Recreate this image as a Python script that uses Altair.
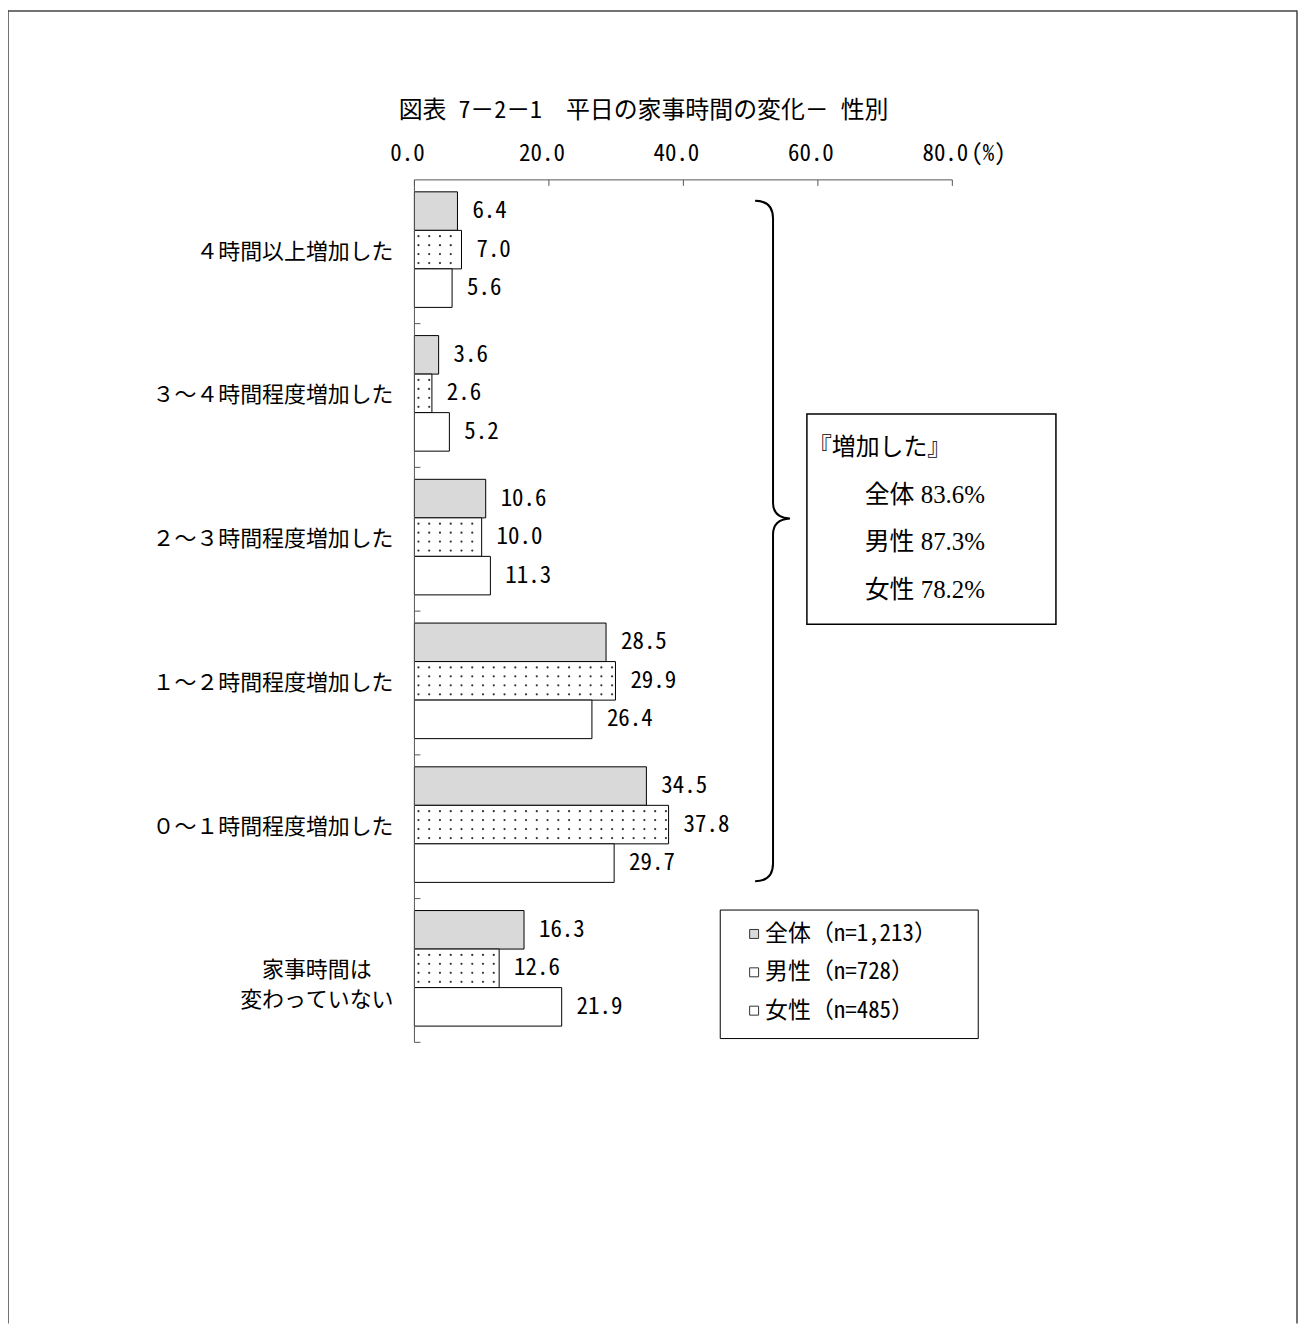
import re
import altair as alt
import pandas as pd

# ---------------- data ----------------
title_text = "図表 7－2－1　平日の家事時間の変化－ 性別"
categories = [
    "４時間以上増加した",
    "３～４時間程度増加した",
    "２～３時間程度増加した",
    "１～２時間程度増加した",
    "０～１時間程度増加した",
    "家事時間は\n変わっていない",
]
series = ["全体", "男性", "女性"]
series_n = ["1,213", "728", "485"]
total_vals = [6.4, 3.6, 10.6, 28.5, 34.5, 16.3]
male_vals = [7.0, 2.6, 10.0, 29.9, 37.8, 12.6]
female_vals = [5.6, 5.2, 11.3, 26.4, 29.7, 21.9]
x_ticks = [0, 20, 40, 60, 80]
x_unit = "(%)"
note_head = "『増加した』"
note_labels = ["全体", "男性", "女性"]
note_vals = [83.6, 87.3, 78.2]

# ---------------- layout / style ----------------
W, H = 1295, 1318
X0, X1 = 408, 948
Y0, STEP = 170.0, 144.3
Y1 = Y0 + STEP * len(categories)
BAR_TOP, BAR_H = 12.0, 38.67
pad_total = STEP - 3 * BAR_H
off_pad = pad_total / 2 / BAR_H
off_align = BAR_TOP / pad_total
LABEL_RIGHT = 387
CAT_FS = 22

GOTHIC = "Noto Sans Mono CJK JP, Noto Sans CJK JP"
NUM = "Noto Sans Mono CJK JP, DejaVu Sans Mono"
SERIF = "Liberation Serif, DejaVu Serif, Noto Sans CJK JP"
AX = "#555555"

xs = alt.Scale(domain=[0, 80], range=[X0, X1], nice=False, zero=False)
ys = alt.Scale(domain=categories, range=[Y0, Y1], paddingInner=0, paddingOuter=0)
yo = alt.Scale(domain=series, paddingInner=0, paddingOuter=off_pad, align=off_align)
fills = alt.Scale(domain=series, range=["#d9d9d9", "#ffffff", "#ffffff"])

rows = []
for c, a, m, f in zip(categories, total_vals, male_vals, female_vals):
    for s, v in zip(series, (a, m, f)):
        rows.append({"cat": c, "series": s, "value": v, "label": f"{v:.1f}"})
bars_df = pd.DataFrame(rows)

X = alt.X("value:Q", scale=xs, axis=None)
Y = alt.Y("cat:N", scale=ys, axis=None)
YO = alt.YOffset("series:N", scale=yo)

one = pd.DataFrame({"k": [0]})
layers = []

# frame (top, left, right)
layers.append(alt.Chart(one).mark_rule(color="#444444", strokeWidth=1.5).encode(
    x=alt.value(0), x2=alt.value(W - 1), y=alt.value(0.5)))
layers.append(alt.Chart(one).mark_rule(color="#444444", strokeWidth=1.5).encode(
    x=alt.value(0), y=alt.value(0), y2=alt.value(H)))
layers.append(alt.Chart(one).mark_rule(color="#444444", strokeWidth=1.5).encode(
    x=alt.value(W - 1), y=alt.value(0), y2=alt.value(H)))

# title
layers.append(alt.Chart(pd.DataFrame({"t": [title_text]})).mark_text(
    font=GOTHIC, fontSize=24, align="center", baseline="middle", color="black").encode(
    x=alt.value(638), y=alt.value(101), text="t:N"))

# bars
layers.append(alt.Chart(bars_df).mark_bar(stroke="black", strokeWidth=1).encode(
    x=X, y=Y, yOffset=YO,
    fill=alt.Fill("series:N", scale=fills, legend=None)))

# dotted pattern on the male bars
DOT_START, DOT_STEP = 0.6, 1.6
dot_rows = []
for c, m in zip(categories, male_vals):
    k = 0
    while DOT_START + k * DOT_STEP < m - 0.3:
        dot_rows.append({"cat": c, "dx": DOT_START + k * DOT_STEP})
        k += 1
dots_df = pd.DataFrame(dot_rows)
male_center = BAR_TOP + 1.5 * BAR_H - STEP / 2
for r in (-13.5, -4.5, 4.5, 13.5):
    layers.append(alt.Chart(dots_df).mark_circle(
        size=5, color="#333333", opacity=1, yOffset=male_center + r).encode(
        x=alt.X("dx:Q", scale=xs, axis=None), y=Y))

# value labels
layers.append(alt.Chart(bars_df).mark_text(
    align="left", baseline="middle", dx=15, font=NUM, fontSize=23, color="black").encode(
    x=X, y=Y, yOffset=YO, text="label:N"))

# axes
axis_df = pd.DataFrame({"a": [0], "b": [80]})
layers.append(alt.Chart(axis_df).mark_rule(color=AX, strokeWidth=1).encode(
    x=alt.X("a:Q", scale=xs, axis=None), x2="b:Q", y=alt.value(Y0)))
layers.append(alt.Chart(axis_df).mark_rule(color=AX, strokeWidth=1).encode(
    x=alt.X("a:Q", scale=xs, axis=None), y=alt.value(Y0), y2=alt.value(Y1)))
tick_df = pd.DataFrame({"t": x_ticks, "lab": [f"{t:.1f}" for t in x_ticks]})
layers.append(alt.Chart(tick_df).mark_rule(color=AX, strokeWidth=1).encode(
    x=alt.X("t:Q", scale=xs, axis=None), y=alt.value(Y0), y2=alt.value(Y0 + 6)))
layers.append(alt.Chart(tick_df).mark_text(
    baseline="alphabetic", dx=-7, font=NUM, fontSize=23, color="black").encode(
    x=alt.X("t:Q", scale=xs, axis=None), y=alt.value(151), text="lab:N"))
layers.append(alt.Chart(pd.DataFrame({"t": [x_ticks[-1]], "u": [x_unit]})).mark_text(
    align="left", baseline="alphabetic", dx=19, font=NUM, fontSize=23, color="black").encode(
    x=alt.X("t:Q", scale=xs, axis=None), y=alt.value(151), text="u:N"))
cat_df = pd.DataFrame({"cat": categories})
layers.append(alt.Chart(cat_df).mark_rule(color=AX, strokeWidth=1).encode(
    x=alt.value(X0), x2=alt.value(X0 + 6),
    y=alt.Y("cat:N", scale=ys, axis=None, bandPosition=1)))

# category labels
single = [c for c in categories if "\n" not in c]
multi = [c for c in categories if "\n" in c]
layers.append(alt.Chart(pd.DataFrame({"cat": single})).mark_text(
    align="right", baseline="middle", font=GOTHIC, fontSize=CAT_FS, color="black").encode(
    x=alt.value(LABEL_RIGHT), y=Y, text="cat:N"))
for c in multi:
    maxlen = max(len(s) for s in c.split("\n"))
    layers.append(alt.Chart(pd.DataFrame({"cat": [c]})).mark_text(
        align="center", baseline="middle", lineBreak="\n", lineHeight=30,
        font=GOTHIC, fontSize=CAT_FS, color="black").encode(
        x=alt.value(LABEL_RIGHT - maxlen * CAT_FS / 2), y=Y, text="cat:N"))

# curly brace (custom symbol path, px / scale)
BR = 400.0
brace_px = "M -18 -319 Q 0 -319 0 -301 L 0 -16 Q 0 -1 17 0 Q 0 1 0 16 L 0 346 Q 0 364 -18 364"
brace_path = re.sub(r"-?\d+(\.\d+)?", lambda mm: f"{float(mm.group(0)) / BR:.5f}", brace_px)
layers.append(alt.Chart(one).mark_point(
    shape=brace_path, size=(2 * BR) ** 2, filled=False, color="black",
    strokeWidth=2, opacity=1).encode(x=alt.value(768), y=alt.value(510)))

# note box
layers.append(alt.Chart(one).mark_rect(fill=None, stroke="black", strokeWidth=1.5).encode(
    x=alt.value(802), x2=alt.value(1052), y=alt.value(405), y2=alt.value(616)))
layers.append(alt.Chart(pd.DataFrame({"t": [note_head]})).mark_text(
    align="left", baseline="middle", font=SERIF, fontSize=24, color="black").encode(
    x=alt.value(803), y=alt.value(439), text="t:N"))
for i, (lab, v) in enumerate(zip(note_labels, note_vals)):
    layers.append(alt.Chart(pd.DataFrame({"t": [f"{lab} {v:.1f}%"]})).mark_text(
        align="left", baseline="middle", font=SERIF, fontSize=25, color="black").encode(
        x=alt.value(860), y=alt.value(486 + 48 * i), text="t:N"))

# legend box
layers.append(alt.Chart(one).mark_rect(fill="white", stroke="black", strokeWidth=1).encode(
    x=alt.value(715), x2=alt.value(974), y=alt.value(903), y2=alt.value(1032)))
leg_fill = ["#d9d9d9", "#ffffff", "#ffffff"]
for i, (s, n) in enumerate(zip(series, series_n)):
    yy = 927 + 38.5 * i
    layers.append(alt.Chart(one).mark_square(
        size=81, fill=leg_fill[i], stroke="#333333", strokeWidth=1, opacity=1).encode(
        x=alt.value(749), y=alt.value(yy)))
    layers.append(alt.Chart(pd.DataFrame({"t": [f"{s}（n={n}）"]})).mark_text(
        align="left", baseline="middle", font=GOTHIC, fontSize=23, color="black").encode(
        x=alt.value(760), y=alt.value(yy), text="t:N"))

chart = alt.layer(*layers).properties(
    width=W, height=H, padding=0,
    autosize=alt.AutoSizeParams(type="none"),
).configure_view(stroke=None)

chart.save("out.html", embed_options={"renderer": "svg", "actions": False})
